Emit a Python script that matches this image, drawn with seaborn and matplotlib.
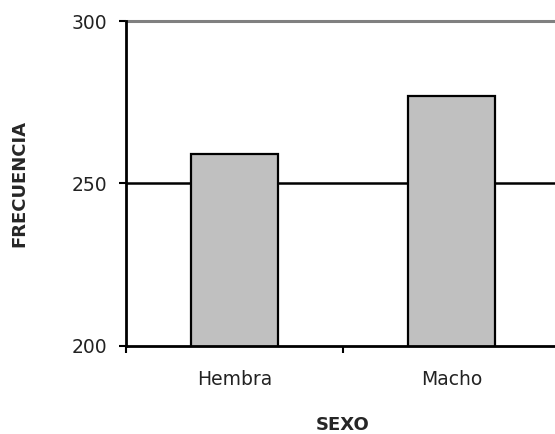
import matplotlib
matplotlib.use("Agg")
import matplotlib.pyplot as plt
import seaborn as sns

sexo = ["Hembra", "Macho"]
frecuencia = [259, 277]
y_ticks = [200, 250, 300]

sns.set_style("white")
plt.rcParams["font.family"] = ["DejaVu Sans"]

fig = plt.figure(figsize=(5.55, 4.34), dpi=100)
ax = fig.add_axes([0.227, 0.2028, 0.782, 0.7488])

sns.barplot(x=sexo, y=frecuencia, color="#c0c0c0", edgecolor="black",
            linewidth=1.6, width=0.4, saturation=1, ax=ax, zorder=3)

ax.set_ylim(200, 300)
ax.set_xlim(-0.5, 1.5)
ax.set_yticks(y_ticks)
ax.set_yticklabels([str(v) for v in y_ticks])

# lineas horizontales
ax.axhline(250, color="black", lw=1.8, zorder=1)
ax.axhline(300, color="#808080", lw=2.2, zorder=1, clip_on=False)

for s in ["top", "right"]:
    ax.spines[s].set_visible(False)
for s in ["left", "bottom"]:
    ax.spines[s].set_color("black")
    ax.spines[s].set_linewidth(2)
    ax.spines[s].set_zorder(4)

ax.tick_params(axis="y", direction="out", length=5, width=1.5, color="black",
               left=True, labelsize=13.5, pad=8.5, labelcolor="#222222")
ax.tick_params(axis="x", which="major", length=0, labelsize=13.5, pad=17,
               labelcolor="#222222")
ax.set_xticks([-0.5, 0.5, 1.5], minor=True)
ax.tick_params(axis="x", which="minor", direction="out", length=5, width=1.5,
               color="black", bottom=True)

ax.set_xlabel("SEXO", fontsize=13, fontweight="bold", labelpad=20)
ax.set_ylabel("FRECUENCIA", fontsize=13, fontweight="bold", labelpad=31)

fig.savefig("out.png", dpi=100)
